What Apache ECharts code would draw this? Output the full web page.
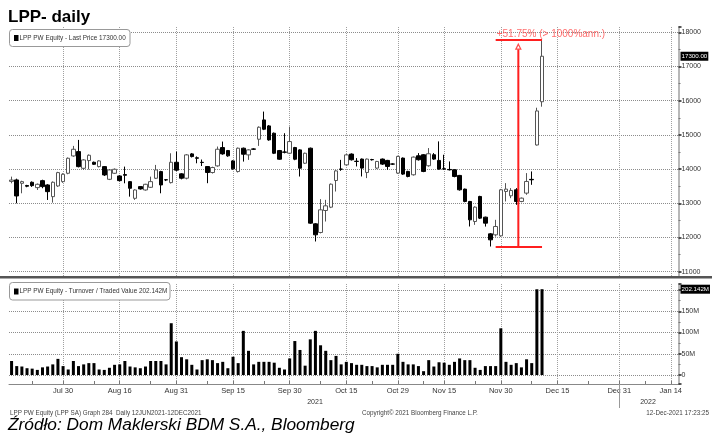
<!DOCTYPE html>
<html><head><meta charset="utf-8">
<script src="https://cdn.jsdelivr.net/npm/echarts@6/dist/echarts.min.js"></script>
<style>html,body{margin:0;padding:0;background:#fff}#c{width:712px;height:435px}</style>
</head><body><div id="c"></div>
<script>
// ---- data (trading days) ----
const categories = [
'Jul 16','Jul 19','Jul 20','Jul 21','Jul 22','Jul 23','Jul 26','Jul 27','Jul 28','Jul 29','Jul 30',
'Aug 2','Aug 3','Aug 4','Aug 5','Aug 6','Aug 9','Aug 10','Aug 11','Aug 12','Aug 13','Aug 16','Aug 17','Aug 18','Aug 19','Aug 20','Aug 23','Aug 24','Aug 25','Aug 26','Aug 27','Aug 30','Aug 31',
'Sep 1','Sep 2','Sep 3','Sep 6','Sep 7','Sep 8','Sep 9','Sep 10','Sep 13','Sep 14','Sep 15','Sep 16','Sep 17','Sep 20','Sep 21','Sep 22','Sep 23','Sep 24','Sep 27','Sep 28','Sep 29','Sep 30',
'Oct 1','Oct 4','Oct 5','Oct 6','Oct 7','Oct 8','Oct 11','Oct 12','Oct 13','Oct 14','Oct 15','Oct 18','Oct 19','Oct 20','Oct 21','Oct 22','Oct 25','Oct 26','Oct 27','Oct 28','Oct 29',
'Nov 2','Nov 3','Nov 4','Nov 5','Nov 8','Nov 9','Nov 10','Nov 12','Nov 15','Nov 16','Nov 17','Nov 18','Nov 19','Nov 22','Nov 23','Nov 24','Nov 25','Nov 26','Nov 29','Nov 30',
'Dec 1','Dec 2','Dec 3','Dec 6','Dec 7','Dec 8','Dec 9','Dec 10','Dec 13','Dec 14','Dec 15','Dec 16','Dec 17','Dec 20','Dec 21','Dec 22','Dec 23','Dec 24','Dec 27','Dec 28','Dec 29','Dec 30','Dec 31',
'Jan 3','Jan 4','Jan 5','Jan 6','Jan 7','Jan 10','Jan 11','Jan 12','Jan 13','Jan 14','Jan 17'
];
const tickLabels = ['Jul 30','Aug 16','Aug 31','Sep 15','Sep 30','Oct 15','Oct 29','Nov 15','Nov 30','Dec 15','Dec 31','Jan 14'];
const minorTickDates = ['Jul 22','Aug 9','Aug 24','Sep 8','Sep 23','Oct 8','Oct 22','Nov 8','Nov 23','Dec 8','Dec 23','Jan 7'];

const opens = [
13640,13683,13585,13520,13615,13459,13663,13537,13195,13507,
13634,13878,14385,14512,14024,14249,14200,14073,14073,13702,
13878,13800,13840,13634,13146,13488,13390,13468,13732,13927,
13690,13605,14200,13861,13734,14445,14330,14200,14075,13900,
14094,14630,14542,14240,13929,14611,14416,14590,14873,15438,
15263,15049,14542,14500,14464,14630,14562,14172,14611,12400,
12147,12790,12887,13666,14000,14124,14439,14230,14293,13902,
14280,14029,14293,14254,14150,13883,14322,13932,13834,14390,
14420,14098,14420,14254,14010,13990,13980,13815,13415,13054,
12468,13200,12595,12107,12078,12049,13346,13220,13395,13054,
13298,13700,14705,15970];
const closes = [
13680,13215,13634,13500,13517,13556,13488,13341,13615,13898,
13849,14317,14580,14073,14268,14405,14141,14239,13829,13976,
13995,13663,13820,13439,13390,13420,13556,13634,13976,13537,
13683,14200,13970,13734,14416,14367,14318,14192,13900,14046,
14581,14445,14387,14007,14611,14435,14562,14581,15224,15166,
14854,14464,14289,14494,14805,14289,14026,14464,12420,12079,
12809,12926,13559,13948,13997,14416,14273,14224,14029,14293,
14273,14224,14146,14078,14146,14371,13854,13785,14351,14273,
13932,14449,14293,14000,14000,13980,13785,13395,13054,12517,
12888,12566,12420,11932,12322,13395,13415,13376,13054,13151,
13639,13688,15700,17300];
const lows = [
13585,13000,13293,13470,13480,13390,13440,13098,13020,13480,
13600,13850,14360,14050,13976,13990,14120,14050,13800,13680,
13860,13640,13585,13195,13100,13400,13370,13450,13710,13293,
13650,13580,13940,13700,13700,14340,14170,14090,13588,13870,
14070,14420,14360,13980,13900,14220,14270,14560,14679,15140,
14830,14440,14270,14460,14440,14260,13783,14150,12400,11884,
12120,12468,12860,13345,13950,14100,14250,14078,13785,13737,
14250,14000,14120,13980,14120,13860,13830,13760,13810,14250,
13910,14070,14270,13980,13980,13960,13760,13370,13030,12322,
12370,12540,12320,11737,12029,12020,13054,13150,12956,13030,
13249,13541,14690,15825];
const highs = [
13780,13720,13660,13540,13640,13580,13690,13560,13640,13920,
13880,14340,14678,14854,14290,14430,14220,14260,14090,14000,
14020,13820,14073,13650,13410,13500,13570,13780,14122,13950,
13710,14463,14512,13880,14440,14470,14370,14280,14090,14070,
14660,14805,14560,14260,14630,14630,14580,14610,15250,15682,
15290,15070,14560,15049,15243,14650,14580,14480,14630,12420,
13121,13101,13580,13970,14270,14440,14460,14322,14310,14310,
14300,14240,14310,14270,14170,14390,14340,13950,14370,14468,
14440,14615,14468,14810,14420,14224,14000,13830,13430,13070,
12910,13220,12610,12130,12517,13420,13590,13444,13444,13170,
13883,13932,15795,17775];
// Turnover / traded value, millions
const turnover = [
33,21,20,16,15,12,18,20,25,38,
21,13,33,21,25,28,28,13,12,17,
24,25,33,20,18,16,20,33,33,33,
25,122,79,42,37,24,13,35,37,35,
28,31,16,43,28,104,57,25,31,31,
31,29,17,13,39,80,59,22,84,104,
70,57,35,45,25,31,28,24,24,21,
21,18,24,24,24,50,31,25,25,21,
9,35,20,30,29,24,31,39,35,35,
17,12,21,21,21,110,31,24,28,18,
37,28,202,202.142];
// annotation (range low -> high)
const annotLow = 11720, annotHigh = 17775;
const annotFrom = 94, annotTo = 103, annotX = 98.4, annotArrowY = 17580, annotLineTop = 17500;
const annotText = '+51.75% (> 1000%ann.)';

// ---- chart ----
const FONT = "'Liberation Sans Narrow','Liberation Sans',Arial,sans-serif";
const SANS = "'Liberation Sans',Arial,sans-serif";
const isLabelDay = (i, v) => tickLabels.indexOf(v) >= 0;
const isTickDay = (i, v) => tickLabels.indexOf(v) >= 0 || minorTickDates.indexOf(v) >= 0;
const candleData = opens.map((o, i) => [o, closes[i], lows[i], highs[i]]);
const lastPrice = closes[closes.length - 1];
const lastTurnover = turnover[turnover.length - 1];
const RED = '#ff1f1f';
const gridLine = {type: 'dotted', color: '#8c8c8c', width: 1};
const vGridLine = {type: 'dotted', color: '#a0a0a0', width: 1};
const tagLabel = {show: true, position: 'end', distance: 2,
  backgroundColor: '#000', color: '#fff', fontSize: 6.2, padding: [2, 1, 1, 1], fontFamily: FONT};

const chart = echarts.init(document.getElementById('c'), null, {renderer: 'canvas'});
chart.setOption({
  animation: false,
  backgroundColor: '#fff',
  grid: [
    {left: 9, right: 33.5, top: 27, height: 249.5, containLabel: false, outerBoundsMode: 'none'},
    {left: 9, right: 33.5, top: 284, height: 100, containLabel: false, outerBoundsMode: 'none'}
  ],
  xAxis: [
    {type: 'category', gridIndex: 0, data: categories, boundaryGap: true,
     axisLine: {show: false, onZero: false}, axisTick: {show: false}, axisLabel: {show: false},
     splitLine: {show: true, interval: isLabelDay, alignWithLabel: true, lineStyle: vGridLine}},
    {type: 'category', gridIndex: 1, data: categories, boundaryGap: true,
     axisLine: {show: true, onZero: false, lineStyle: {color: '#888', width: 1}},
     axisTick: {show: true, inside: true, length: 3, interval: isTickDay, alignWithLabel: true, lineStyle: {color: '#777'}},
     axisLabel: {interval: isLabelDay, fontSize: 7.5, color: '#333', margin: 3, fontFamily: FONT},
     splitLine: {show: true, interval: isLabelDay, alignWithLabel: true, lineStyle: vGridLine}},
    {type: 'value', gridIndex: 0, min: -0.5, max: categories.length - 0.5, show: false,
     axisLine: {onZero: false}}
  ],
  yAxis: [
    {type: 'value', gridIndex: 0, position: 'right', min: 10860, max: 18155, splitNumber: 7,
     axisLine: {show: true, onZero: false, lineStyle: {color: '#b8b8b8', width: 2}},
     axisTick: {show: true, length: 3, lineStyle: {color: '#222', width: 1.5}},
     minorTick: {show: true, splitNumber: 2, length: 2, lineStyle: {color: '#777'}},
     axisLabel: {fontSize: 7, color: '#333', margin: 3, fontFamily: FONT,
       formatter: v => (v % 1000 === 0 ? String(v) : '')},
     splitLine: {show: true, showMinLine: false, showMaxLine: false, lineStyle: gridLine}},
    {type: 'value', gridIndex: 1, position: 'right', min: -21.2, max: 214.4, splitNumber: 5,
     axisLine: {show: true, onZero: false, lineStyle: {color: '#b8b8b8', width: 2}},
     axisTick: {show: true, length: 3, lineStyle: {color: '#222', width: 1.5}},
     minorTick: {show: true, splitNumber: 2, length: 2, lineStyle: {color: '#777'}},
     axisLabel: {fontSize: 7, color: '#333', margin: 3, fontFamily: FONT,
       formatter: v => (v >= 0 && v < 200 && v % 50 === 0 ? (v === 0 ? '0' : v + 'M') : '')},
     splitLine: {show: true, showMinLine: false, showMaxLine: false, lineStyle: gridLine}}
  ],
  series: [
    {type: 'candlestick', name: 'LPP PW Equity', xAxisIndex: 0, yAxisIndex: 0, data: candleData,
     barWidth: 4,
     itemStyle: {color: '#ffffff', color0: '#000000', borderColor: '#555', borderColor0: '#000', borderWidth: 1},
     markLine: {silent: true, symbol: 'none', animation: false,
       lineStyle: {color: 'rgba(0,0,0,0)', width: 1, type: 'solid'},
       label: Object.assign({formatter: lastPrice.toFixed(2)}, tagLabel),
       data: [{yAxis: lastPrice}]}},
    {type: 'bar', name: 'Turnover', xAxisIndex: 1, yAxisIndex: 1, data: turnover, barWidth: 3,
     itemStyle: {color: '#000'},
     markLine: {silent: true, symbol: 'none', animation: false,
       lineStyle: {color: 'rgba(0,0,0,0)', width: 1, type: 'solid'},
       label: Object.assign({formatter: lastTurnover.toFixed(3) + 'M'}, tagLabel),
       data: [{yAxis: lastTurnover}]}},
    {type: 'line', xAxisIndex: 2, yAxisIndex: 0, symbol: 'none', silent: true,
     lineStyle: {color: RED, width: 2}, data: [[annotFrom, annotLow], [annotTo, annotLow]]},
    {type: 'line', xAxisIndex: 2, yAxisIndex: 0, symbol: 'none', silent: true,
     lineStyle: {color: RED, width: 2}, data: [[annotFrom, annotHigh], [annotTo, annotHigh]]},
    {type: 'line', xAxisIndex: 2, yAxisIndex: 0, symbol: 'none', silent: true,
     lineStyle: {color: RED, width: 2}, data: [[annotX, annotLow], [annotX, annotLineTop]]},
    {type: 'scatter', xAxisIndex: 2, yAxisIndex: 0, symbol: 'triangle', symbolSize: [5, 5], silent: true,
     itemStyle: {color: '#fff', borderColor: RED, borderWidth: 1.2}, data: [[annotX, annotArrowY]]},
    {type: 'scatter', xAxisIndex: 2, yAxisIndex: 0, symbolSize: 0.1, silent: true,
     itemStyle: {color: 'transparent'}, data: [[annotFrom, annotHigh]],
     label: {show: true, position: 'top', align: 'left', distance: 1, offset: [1, 0],
       formatter: annotText, color: '#ff4a4a', fontSize: 10, fontFamily: SANS}}
  ],
  graphic: [
    {type: 'text', x: 8, y: 9, z: 100, style: {text: 'LPP- daily', font: 'bold 17px ' + SANS, fill: '#000', textAlign: 'left', textVerticalAlign: 'top', align: 'left', verticalAlign: 'top'}},
    {type: 'rect', z: 100, shape: {x: 9.5, y: 29.5, width: 120.5, height: 17, r: 3}, style: {fill: '#fff', stroke: '#999', lineWidth: 1}},
    {type: 'rect', z: 101, shape: {x: 14, y: 35, width: 4.5, height: 6}, style: {fill: '#000'}},
    {type: 'text', x: 19.5, y: 38.5, z: 101, style: {text: 'LPP PW Equity - Last Price ' + lastPrice.toFixed(2), font: '6.4px ' + FONT, fill: '#333', textAlign: 'left', textVerticalAlign: 'middle', align: 'left', verticalAlign: 'middle'}},
    {type: 'rect', z: 100, shape: {x: 0, y: 276, width: 712, height: 2.5}, style: {fill: '#555'}},
    {type: 'rect', z: 100, shape: {x: 9.5, y: 282.5, width: 160.5, height: 17.5, r: 3}, style: {fill: '#fff', stroke: '#999', lineWidth: 1}},
    {type: 'rect', z: 101, shape: {x: 14, y: 288.5, width: 4.5, height: 6}, style: {fill: '#000'}},
    {type: 'text', x: 19.5, y: 291.5, z: 101, style: {text: 'LPP PW Equity - Turnover / Traded Value ' + lastTurnover.toFixed(3) + 'M', font: '6.4px ' + FONT, fill: '#333', textAlign: 'left', textVerticalAlign: 'middle', align: 'left', verticalAlign: 'middle'}},
    {type: 'text', x: 315, y: 402, z: 100, style: {text: '2021', font: '7px ' + FONT, fill: '#333', textAlign: 'center', textVerticalAlign: 'middle', align: 'center', verticalAlign: 'middle'}},
    {type: 'text', x: 648, y: 402, z: 100, style: {text: '2022', font: '7px ' + FONT, fill: '#333', textAlign: 'center', textVerticalAlign: 'middle', align: 'center', verticalAlign: 'middle'}},
    {type: 'line', z: 100, shape: {x1: 619.5, y1: 384, x2: 619.5, y2: 408}, style: {stroke: '#999', lineWidth: 1}},
    {type: 'text', x: 10, y: 413, z: 100, style: {text: 'LPP PW Equity (LPP SA) Graph 284  Daily 12JUN2021-12DEC2021', font: '6.3px ' + FONT, fill: '#444', textAlign: 'left', textVerticalAlign: 'middle', align: 'left', verticalAlign: 'middle'}},
    {type: 'text', x: 362, y: 413, z: 100, style: {text: 'Copyright\u00a9 2021 Bloomberg Finance L.P.', font: '6.3px ' + FONT, fill: '#444', textAlign: 'left', textVerticalAlign: 'middle', align: 'left', verticalAlign: 'middle'}},
    {type: 'text', x: 709, y: 413, z: 100, style: {text: '12-Dec-2021 17:23:25', font: '6.3px ' + FONT, fill: '#444', textAlign: 'right', textVerticalAlign: 'middle', align: 'right', verticalAlign: 'middle'}},
    {type: 'text', x: 8, y: 425.5, z: 100, style: {text: 'Źródło: Dom Maklerski BDM S.A., Bloomberg', font: 'italic 17.3px ' + SANS, fill: '#000', textAlign: 'left', textVerticalAlign: 'middle', align: 'left', verticalAlign: 'middle'}}
  ]
});
</script>
</body></html>
